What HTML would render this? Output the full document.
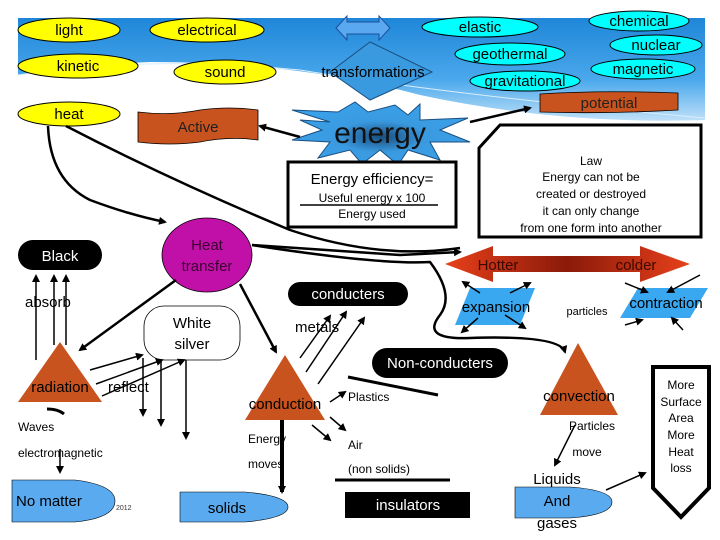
<!DOCTYPE html>
<html><head><meta charset="utf-8"><style>
html,body{margin:0;padding:0;background:#fff}
svg{display:block}
text{font-family:"Liberation Sans",sans-serif}
</style></head><body>
<svg width="720" height="540" viewBox="0 0 720 540" xmlns="http://www.w3.org/2000/svg">
<defs>
<linearGradient id="sky" x1="0" y1="0" x2="0" y2="1">
<stop offset="0" stop-color="#1f86d8"/><stop offset="0.6" stop-color="#4aa8ec"/><stop offset="1" stop-color="#bfe0f8"/>
</linearGradient>
<linearGradient id="hc" x1="0" y1="0" x2="1" y2="0">
<stop offset="0" stop-color="#e8401a"/><stop offset="0.5" stop-color="#8a1a0a"/><stop offset="1" stop-color="#e8401a"/>
</linearGradient>
<radialGradient id="st" cx="0.5" cy="0.55" r="0.5">
<stop offset="0" stop-color="#1a4f80"/><stop offset="0.5" stop-color="#3a9ae0"/><stop offset="1" stop-color="#3aa0e8"/>
</radialGradient>
<marker id="a" markerWidth="8" markerHeight="8" refX="6" refY="4" orient="auto" markerUnits="userSpaceOnUse"><path d="M0,0 L8,4 L0,8 Z" fill="#000"/></marker>
</defs>
<path d="M18,18 L705,18 L705,120 Q560,125 420,95 Q300,62 150,62 Q60,66 18,75 Z" fill="url(#sky)"/>
<path d="M18,75 Q150,55 300,70 Q450,95 705,118" fill="none" stroke="#d8eefc" stroke-width="1"/>

<g fill="#ffff00" stroke="#000" stroke-width="1">
<ellipse cx="69" cy="30" rx="51" ry="12"/>
<ellipse cx="207" cy="30" rx="57" ry="12"/>
<ellipse cx="78" cy="66" rx="60" ry="12"/>
<ellipse cx="225" cy="72" rx="51" ry="12"/>
<ellipse cx="69" cy="114" rx="51" ry="12"/>
</g>
<g font-size="15" text-anchor="middle" fill="#000">
<text x="69" y="35">light</text><text x="207" y="35">electrical</text>
<text x="78" y="71">kinetic</text><text x="225" y="77">sound</text><text x="69" y="119">heat</text>
</g>
<g fill="#00ffff" stroke="#000" stroke-width="1">
<ellipse cx="480" cy="27" rx="58" ry="10"/>
<ellipse cx="510" cy="54" rx="55" ry="11"/>
<ellipse cx="525" cy="81" rx="55" ry="10"/>
<ellipse cx="639" cy="21" rx="50" ry="10"/>
<ellipse cx="656" cy="45" rx="46" ry="10"/>
<ellipse cx="643" cy="69" rx="52" ry="10"/>
</g>
<g font-size="15" text-anchor="middle" fill="#000">
<text x="480" y="32">elastic</text><text x="510" y="59">geothermal</text><text x="525" y="86">gravitational</text>
<text x="639" y="26">chemical</text><text x="656" y="50">nuclear</text><text x="643" y="74">magnetic</text>
</g>
<path d="M138,112 Q170,116 200,110 Q230,106 258,110 L258,140 Q230,136 200,142 Q170,146 138,142 Z" fill="#c8531e" stroke="#000" stroke-width="0.8"/>
<text x="198" y="132" font-size="15" text-anchor="middle" fill="#222">Active</text>
<path d="M540,94 Q600,90 678,93 L678,110 Q610,114 540,112 Z" fill="#c8531e" stroke="#000" stroke-width="0.8"/>
<text x="609" y="108" font-size="15" text-anchor="middle" fill="#222">potential</text>

<path d="M336,28 L347,16 L347,22 L379,22 L379,16 L390,28 L379,40 L379,34 L347,34 L347,40 Z" fill="#5aa8f0" stroke="#1a4f9a" stroke-width="1"/>
<path d="M370,42 L432,72 L370,100 L330,72 Z" fill="#3a9ae0" stroke="#1a4f80" stroke-width="1"/>
<text x="373" y="77" font-size="15" text-anchor="middle" fill="#000">transformations</text>
<path d="M292,110 L338,112 L355,102 L368,112 L395,105 L408,115 L420,104 L420,120 L468,118 L440,130 L470,142 L430,142 L440,160 L408,150 L398,165 L380,150 L362,164 L350,150 L318,158 L330,142 L292,140 L322,130 L300,120 L330,122 Z" fill="url(#st)" stroke="#1a4f80" stroke-width="1"/>
<text x="380" y="143" font-size="30" text-anchor="middle" fill="#111">energy</text>

<rect x="288" y="162" width="168" height="65" fill="#fff" stroke="#000" stroke-width="3"/>
<text x="372" y="184" font-size="15" text-anchor="middle">Energy efficiency=</text>
<text x="372" y="202" font-size="12" text-anchor="middle">Useful energy x 100</text>
<line x1="300" y1="205" x2="438" y2="205" stroke="#000" stroke-width="1.5"/>
<text x="372" y="218" font-size="12" text-anchor="middle">Energy used</text>

<path d="M479,148 L479,237 L701,237 L701,125 L500,125 Z" fill="#fff" stroke="#000" stroke-width="3"/>
<g font-size="12" text-anchor="middle"><text x="591" y="165">Law</text><text x="591" y="181">Energy can not be</text><text x="591" y="198">created or destroyed</text><text x="591" y="215">it can only change</text><text x="591" y="232">from one form into another</text></g>

<rect x="18" y="240" width="84" height="30" rx="15" fill="#000"/>
<text x="60" y="261" font-size="15" fill="#fff" text-anchor="middle">Black</text>
<ellipse cx="207" cy="255" rx="45" ry="37" fill="#c010a8" stroke="#000" stroke-width="0.8"/>
<text x="207" y="250" font-size="15" text-anchor="middle" fill="#3a0030">Heat</text>
<text x="207" y="271" font-size="15" text-anchor="middle" fill="#3a0030">transfer</text>

<path d="M445,264 L493,246 L493,256 L640,256 L640,246 L690,264 L640,282 L640,272 L493,272 L493,282 Z" fill="url(#hc)"/>
<text x="498" y="270" font-size="15" text-anchor="middle" fill="#3a0a00">Hotter</text>
<text x="636" y="270" font-size="15" text-anchor="middle" fill="#3a0a00">colder</text>

<text x="25" y="307" font-size="15">absorb</text>
<rect x="144" y="306" width="96" height="54" rx="20" fill="#fff" stroke="#000" stroke-width="0.8"/>
<text x="192" y="328" font-size="15" text-anchor="middle">White</text>
<text x="192" y="349" font-size="15" text-anchor="middle">silver</text>

<rect x="288" y="282" width="120" height="24" rx="12" fill="#000"/>
<text x="348" y="299" font-size="15" fill="#fff" text-anchor="middle">conducters</text>
<text x="295" y="332" font-size="15">metals</text>
<rect x="372" y="348" width="136" height="30" rx="15" fill="#000"/>
<text x="440" y="368" font-size="15" fill="#fff" text-anchor="middle">Non-conducters</text>

<path d="M470,288 L535,288 L520,325 L455,325 Z" fill="#3aa8f0"/>
<text x="496" y="312" font-size="15" text-anchor="middle">expansion</text>
<text x="587" y="315" font-size="11" text-anchor="middle">particles</text>
<path d="M638,288 L708,288 L690,318 L620,318 Z" fill="#3aa8f0"/>
<text x="666" y="308" font-size="15" text-anchor="middle">contraction</text>

<path d="M60,342 L102,402 L18,402 Z" fill="#c8531e"/>
<text x="60" y="392" font-size="15" text-anchor="middle">radiation</text>
<text x="108" y="392" font-size="15">reflect</text>
<path d="M285,355 L325,420 L245,420 Z" fill="#c8531e"/>
<text x="285" y="409" font-size="15" text-anchor="middle">conduction</text>
<path d="M578,343 L618,415 L540,415 Z" fill="#c8531e"/>
<text x="579" y="401" font-size="15" text-anchor="middle">convection</text>

<path d="M653,367 L709,367 L709,488 L681,517 L653,488 Z" fill="#fff" stroke="#000" stroke-width="4"/>
<g font-size="12" text-anchor="middle"><text x="681" y="389">More</text><text x="681" y="406">Surface</text><text x="681" y="422">Area</text><text x="681" y="439">More</text><text x="681" y="456">Heat</text><text x="681" y="472">loss</text></g>

<text x="18" y="431" font-size="12">Waves</text>
<text x="18" y="457" font-size="12">electromagnetic</text>
<path d="M12,480 L75,480 Q115,485 115,501 Q115,518 75,522 L12,522 Z" fill="#5aaaf0" stroke="#000" stroke-width="0.6"/>
<text x="16" y="506" font-size="15">No matter</text>
<text x="116" y="510" font-size="7" fill="#333">2012</text>
<path d="M180,492 L245,492 Q288,496 288,507 Q288,518 245,522 L180,522 Z" fill="#5aaaf0" stroke="#000" stroke-width="0.6"/>
<text x="227" y="513" font-size="15" text-anchor="middle">solids</text>
<text x="248" y="443" font-size="12">Energy</text>
<text x="248" y="468" font-size="12">moves</text>
<text x="348" y="401" font-size="12">Plastics</text>
<text x="348" y="449" font-size="12">Air</text>
<text x="348" y="473" font-size="12">(non solids)</text>
<line x1="335" y1="480" x2="450" y2="480" stroke="#000" stroke-width="3"/>
<rect x="345" y="492" width="125" height="26" fill="#000"/>
<text x="408" y="510" font-size="15" fill="#fff" text-anchor="middle">insulators</text>
<text x="592" y="430" font-size="12" text-anchor="middle">Particles</text>
<text x="587" y="456" font-size="12" text-anchor="middle">move</text>
<path d="M515,487 L570,487 Q612,490 612,502 Q612,515 570,518 L515,518 Z" fill="#5aaaf0" stroke="#000" stroke-width="0.6"/>
<text x="557" y="484" font-size="15" text-anchor="middle">Liquids</text>
<text x="557" y="506" font-size="15" text-anchor="middle">And</text>
<text x="557" y="528" font-size="15" text-anchor="middle">gases</text>

<g stroke="#000" fill="none" stroke-width="2.5">
<path d="M48,126 Q50,180 90,200 Q130,215 165,222" marker-end="url(#a)"/>
<path d="M66,126 Q170,180 290,230 Q380,260 460,248"/>
<path d="M300,137 L260,126" marker-end="url(#a)"/>
<path d="M470,122 L530,108" marker-end="url(#a)"/>
<path d="M252,245 Q380,265 430,262 Q455,295 440,315 Q420,340 470,338 Q560,335 565,352" marker-end="url(#a)"/>
<path d="M252,245 L400,255 L460,252" marker-end="url(#a)"/>
<path d="M176,280 L80,350" marker-end="url(#a)"/>
<path d="M240,284 L276,352" marker-end="url(#a)"/>
<path d="M282,420 L282,492" stroke-width="4" marker-end="url(#a)"/>
</g>
<g stroke="#000" fill="none" stroke-width="1.5" marker-end="url(#a)">
<path d="M36,360 L36,276"/><path d="M54,345 L54,276"/><path d="M66,345 L66,276"/>
<path d="M90,370 L142,355"/><path d="M96,384 L162,360"/><path d="M102,396 L184,360"/>
<path d="M143,358 L143,415"/><path d="M161,360 L161,425"/><path d="M186,360 L186,438"/>
<path d="M60,449 L60,472"/>
<path d="M300,358 L330,316"/><path d="M306,372 L346,312"/><path d="M318,384 L364,318"/>
<path d="M330,402 L345,392"/><path d="M312,425 L330,440"/><path d="M330,417 L345,430"/>
<path d="M606,490 L645,473"/>
<path d="M575,425 L555,465"/>
<path d="M480,293 L463,282"/><path d="M510,293 L530,283"/><path d="M478,318 L462,332"/><path d="M505,315 L525,328"/>
<path d="M625,283 L647,292"/><path d="M700,275 L668,292"/><path d="M625,325 L642,320"/><path d="M683,330 L672,318"/>
</g>
<path d="M348,377 L438,395" stroke="#000" stroke-width="3"/>
<path d="M47,409 Q58,409 64,414" stroke="#000" stroke-width="3" fill="none"/>
</svg>
</body></html>
